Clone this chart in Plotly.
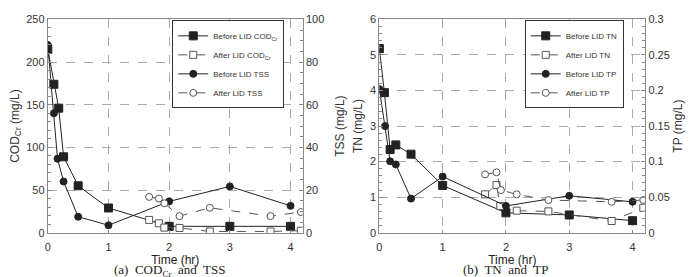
import plotly.graph_objects as go

# ---- data (a) COD_Cr and TSS ----
before_cod_t = [0, 0.1, 0.18, 0.26, 0.5, 1, 2, 3, 4]
before_cod = [215, 174, 146, 89, 55, 29, 7.5, 7.5, 7.5]
after_cod_t = [1.67, 1.83, 1.92, 2.17, 2.67, 3.67, 4.17]
after_cod = [15, 11, 6, 5.6, 1.5, 1.5, 2.4]
before_tss_t = [0, 0.1, 0.16, 0.26, 0.5, 1, 2, 3, 4]
before_tss = [88, 56, 34.7, 24, 7.5, 3.5, 14.7, 21.7, 12.6]
after_tss_t = [1.67, 1.83, 1.92, 2.17, 2.67, 3.67, 4.17]
after_tss = [16.8, 16, 13.8, 7.8, 11.7, 7.8, 9.7]

# ---- data (b) TN and TP ----
before_tn_t = [0, 0.08, 0.17, 0.26, 0.5, 1, 2, 3, 4]
before_tn = [5.18, 3.94, 2.34, 2.47, 2.21, 1.33, 0.56, 0.5, 0.34]
after_tn_t = [1.67, 1.85, 1.91, 2.17, 2.67, 3.67, 4.17]
after_tn = [1.08, 1.34, 0.75, 0.62, 0.6, 0.33, 0.7]
before_tp_t = [0, 0.09, 0.17, 0.26, 0.5, 1, 2, 3, 4]
before_tp = [0.202, 0.15, 0.1005, 0.096, 0.048, 0.079, 0.0377, 0.052, 0.0435]
after_tp_t = [1.67, 1.85, 1.92, 2.17, 2.67, 3.67, 4.17]
after_tp = [0.082, 0.085, 0.06, 0.054, 0.046, 0.0435, 0.046]

W, H = 692, 277
LINE = "#222"
OPEN = "#555"
fig = go.Figure()

def add(x, y, name, xa, ya, legend, symbol, size, dash, color=LINE, fill=True):
    fig.add_trace(go.Scatter(
        x=x, y=y, name=name, xaxis=xa, yaxis=ya, legend=legend,
        mode="lines+markers",
        line=dict(color=color, width=1, dash=dash),
        marker=dict(symbol=symbol, size=size,
                    color=color if fill else "white",
                    line=dict(color=color, width=1)),
    ))

add(before_cod_t, before_cod, "Before LID COD<sub>Cr</sub>", "x", "y", "legend", "square", 8, "solid")
add(after_cod_t, after_cod, "After LID COD<sub>Cr</sub>", "x", "y", "legend", "square", 7, "dash", OPEN, fill=False)
add(before_tss_t, before_tss, "Before LID TSS", "x", "y2", "legend", "circle", 7, "solid")
add(after_tss_t, after_tss, "After LID TSS", "x", "y2", "legend", "circle", 7, "dash", OPEN, fill=False)

add(before_tn_t, before_tn, "Before LID TN", "x2", "y3", "legend2", "square", 8, "solid")
add(after_tn_t, after_tn, "After LID TN", "x2", "y3", "legend2", "square", 7, "dash", OPEN, fill=False)
add(before_tp_t, before_tp, "Before LID TP", "x2", "y4", "legend2", "circle", 7, "solid")
add(after_tp_t, after_tp, "After LID TP", "x2", "y4", "legend2", "circle", 7, "dash", OPEN, fill=False)

ydom = [1 - 237 / H, 1 - 14 / H]
xdom1 = [45 / W, 301 / W]
xdom2 = [378 / W, 645 / W]

FONT = "Arial, Liberation Sans, sans-serif"
tickfont = dict(family=FONT, size=11, color="#333")
AX = "#888"
GRID = "#aaa"
common_x = dict(range=[0, 4.2], tickvals=[0, 1, 2, 3, 4], showgrid=True, gridcolor=GRID,
                griddash="dash", gridwidth=1, zeroline=False, showline=True, linecolor=AX,
                mirror=True, ticks="inside", ticklen=3, tickcolor=AX, tickfont=tickfont,
                ticklabelstandoff=4,
                title=dict(text="Time (hr)", font=dict(family=FONT, size=12, color="#222"),
                           standoff=0))
common_y = dict(showgrid=True, gridcolor=GRID, griddash="dash", gridwidth=1, zeroline=False,
                showline=True, linecolor=AX, ticks="inside", ticklen=4, tickcolor=AX,
                tickfont=tickfont, domain=ydom,
                minor=dict(ticks="inside", ticklen=3, tickcolor=AX, showgrid=False))
right_y = dict(showgrid=False, zeroline=False, showline=True, linecolor=AX, ticks="inside",
               ticklen=4, tickcolor=AX, tickfont=tickfont, side="right",
               minor=dict(ticks="inside", ticklen=3, tickcolor=AX, showgrid=False))
titlefont = dict(family=FONT, size=12, color="#333")
legfont = dict(family=FONT, size=8, color="#333")
capfont = dict(family="Liberation Serif, DejaVu Serif, serif", size=13, color="#222")

fig.update_layout(
    width=W, height=H, margin=dict(l=0, r=0, t=0, b=0),
    paper_bgcolor="white", plot_bgcolor="white", showlegend=True,
    xaxis=dict(domain=xdom1, anchor="y", **common_x),
    xaxis2=dict(domain=xdom2, anchor="y3", **common_x),
    yaxis=dict(anchor="x", range=[0, 250], dtick=50,
               title=dict(text="COD<sub>Cr</sub> (mg/L)", font=titlefont, standoff=4), **common_y),
    yaxis2=dict(anchor="x", overlaying="y", range=[0, 100], dtick=20,
                title=dict(text="TSS (mg/L)", font=titlefont, standoff=12), **right_y),
    yaxis3=dict(anchor="x2", range=[0, 6], dtick=1,
                title=dict(text="TN (mg/L)", font=titlefont, standoff=4), **common_y),
    yaxis4=dict(anchor="x2", overlaying="y3", range=[0, 0.3], dtick=0.05,
                title=dict(text="TP (mg/L)", font=titlefont, standoff=4), **right_y),
    legend=dict(x=170 / W, y=1 - 15 / H, xanchor="left", yanchor="top",
                bgcolor="white", bordercolor="#333", borderwidth=1, font=legfont,
                tracegroupgap=0, itemwidth=30),
    legend2=dict(x=524 / W, y=1 - 15 / H, xanchor="left", yanchor="top",
                 bgcolor="white", bordercolor="#333", borderwidth=1, font=legfont,
                 tracegroupgap=0, itemwidth=30),
    annotations=[
        dict(text="(a)  COD<sub>Cr</sub>  and  TSS", x=167 / W, y=1 - 265 / H, xref="paper",
             yref="paper", showarrow=False, xanchor="center", yanchor="top", font=capfont),
        dict(text="(b)  TN  and  TP", x=505 / W, y=1 - 265 / H, xref="paper",
             yref="paper", showarrow=False, xanchor="center", yanchor="top", font=capfont),
    ],
)

fig.write_html("out.html")
